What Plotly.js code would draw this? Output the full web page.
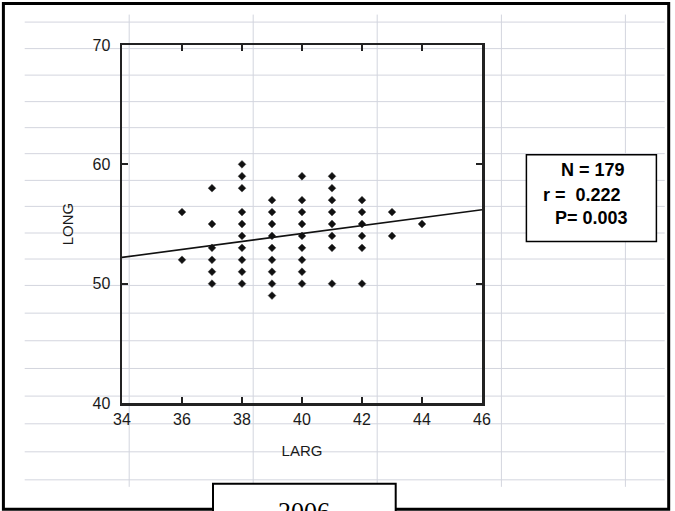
<!DOCTYPE html>
<html>
<head>
<meta charset="utf-8">
<script src="https://cdn.plot.ly/plotly-3.0.1.min.js"></script>
<style>
html,body{margin:0;padding:0;background:#fff;}
#chart{width:675px;height:511px;}
</style>
</head>
<body>
<div id="chart"></div>
<script>
// ---- data ----
const larg = [
  36,36,
  37,37,37,37,37,37,
  38,38,38,38,38,38,38,38,38,38,
  39,39,39,39,39,39,39,39,39,
  40,40,40,40,40,40,40,40,40,
  41,41,41,41,41,41,41,41,
  42,42,42,42,42,42,
  43,43,
  44
];
const long = [
  56,52,
  58,55,53,52,51,50,
  60,59,58,56,55,54,53,52,51,50,
  57,56,55,54,53,52,51,50,49,
  59,57,56,55,54,53,52,51,50,
  59,58,57,56,55,54,53,50,
  57,56,55,54,53,50,
  56,54,
  55
];
const fitX = [34, 46];
const fitY = [52.2, 56.2];
const xTicks = [34,36,38,40,42,44,46];
const yTicks = [40,50,60,70];
const statLines = ["N = 179", "r =  0.222", "P= 0.003"];
const yearLabel = "2006";
const xTitle = "LARG";
const yTitle = "LONG";

// ---- layout geometry (pixels) ----
const W = 675, H = 511;
const L = 122.3, R = 482.3, T = 45.4, B = 403.2;
const px = x => (x - L) / (R - L);
const py = y => (B - y) / (B - T);

const shapes = [];
const gridColor = '#d3d5de';
const hLines = [22.5,49,75.5,102,128,154,180.7,206.7,233.3,259.3,285.7,313.4,341,368.7,396.3,424,452,480];
const vLines = [129.5,253.5,377.5,501.7,625.7];
hLines.forEach(y => shapes.push({type:'line', xref:'paper', yref:'paper', layer:'below',
  x0:px(25), x1:px(665), y0:py(y), y1:py(y), line:{color:gridColor, width:1}}));
vLines.forEach(x => shapes.push({type:'line', xref:'paper', yref:'paper', layer:'below',
  x0:px(x), x1:px(x), y0:py(15), y1:py(487), line:{color:gridColor, width:1}}));
// outer frame
shapes.push({type:'rect', xref:'paper', yref:'paper', layer:'above',
  x0:px(3.7), x1:px(669), y0:py(509.3), y1:py(4), line:{color:'#000', width:3}, fillcolor:'rgba(0,0,0,0)'});
// stats box
shapes.push({type:'rect', xref:'paper', yref:'paper', layer:'above',
  x0:px(526.7), x1:px(656.7), y0:py(241.7), y1:py(155), line:{color:'#000', width:1.5}, fillcolor:'#fff'});
// year box
shapes.push({type:'rect', xref:'paper', yref:'paper', layer:'above',
  x0:px(213.3), x1:px(396), y0:py(530), y1:py(484), line:{color:'#000', width:2}, fillcolor:'#fff'});

const statPos = [[593,170.7],[582,195],[592,218.3]];
const annotations = statLines.map((t,i) => ({
  text:t.replace(/  /g, ' &nbsp;'), xref:'paper', yref:'paper', x:px(statPos[i][0]), y:py(statPos[i][1]),
  xanchor:'center', yanchor:'middle', showarrow:false,
  font:{family:'Liberation Sans, Arial, sans-serif', size:18, color:'#000', weight:'bold'}
}));
annotations.push({text:yearLabel, xref:'paper', yref:'paper', x:px(304.7), y:py(495),
  xanchor:'center', yanchor:'top', showarrow:false,
  font:{family:'Liberation Serif, Times New Roman, serif', size:26, color:'#000'}});

const tickFont = {family:'Liberation Sans, Arial, sans-serif', size:16, color:'#1a1a1a'};
const titleFont = {family:'Liberation Sans, Arial, sans-serif', size:15, color:'#1a1a1a'};

const traces = [
  {x:larg, y:long, type:'scatter', mode:'markers',
   marker:{symbol:'diamond', size:6, color:'#111', line:{color:'#444', width:0.5}},
   hoverinfo:'x+y'},
  {x:fitX, y:fitY, type:'scatter', mode:'lines', line:{color:'#111', width:1.6}, hoverinfo:'skip'}
];

const layout = {
  width:W, height:H, showlegend:false,
  margin:{l:L, r:W-R, t:T, b:H-B, pad:0},
  paper_bgcolor:'#fff', plot_bgcolor:'rgba(0,0,0,0)',
  xaxis:{range:[34,46], tickvals:xTicks, ticks:'inside', ticklen:6, tickwidth:2, tickcolor:'#222',
    showline:true, linecolor:'#222', linewidth:2.5, mirror:'ticks', showgrid:false, zeroline:false,
    tickfont:tickFont, title:{text:xTitle, font:titleFont, standoff:19}},
  yaxis:{range:[40,70], tickvals:yTicks, ticks:'inside', ticklen:6, tickwidth:2, tickcolor:'#222',
    showline:true, linecolor:'#222', linewidth:2.5, mirror:'ticks', showgrid:false, zeroline:false,
    ticklabelstandoff:6,
    tickfont:tickFont, title:{text:yTitle, font:titleFont, standoff:16}},
  shapes:shapes, annotations:annotations
};

Plotly.newPlot('chart', traces, layout, {staticPlot:true, displayModeBar:false});
</script>
</body>
</html>
